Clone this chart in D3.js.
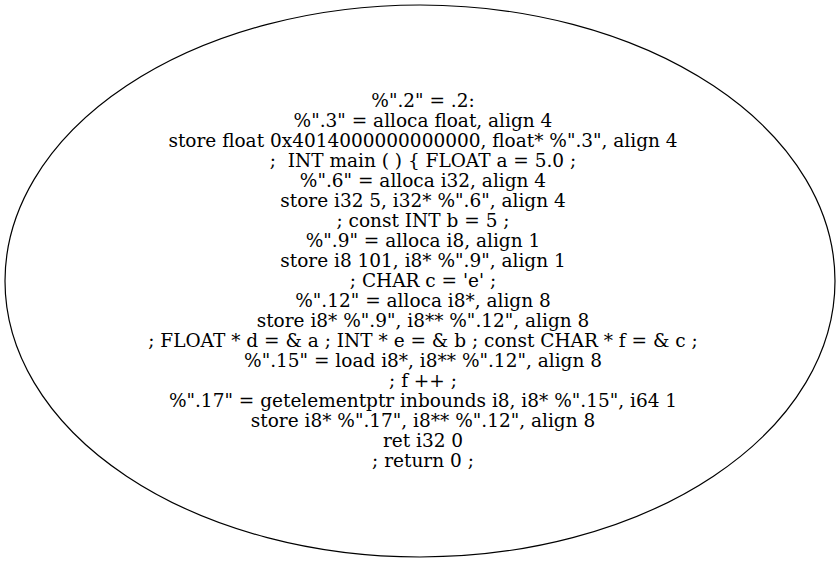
<!DOCTYPE html>
<html>
<head>
<meta charset="utf-8">
<script src="https://d3js.org/d3.v7.min.js"></script>
<style>
  body { margin: 0; background: #fff; }
  text { font-family: "DejaVu Serif", serif; }
</style>
</head>
<body>
<div id="node"></div>
<script>
// node label, one entry per line
var labelLines = [
  '%".2" = .2:',
  '%".3" = alloca float, align 4',
  'store float 0x4014000000000000, float* %".3", align 4',
  ';  INT main ( ) { FLOAT a = 5.0 ;',
  '%".6" = alloca i32, align 4',
  'store i32 5, i32* %".6", align 4',
  '; const INT b = 5 ;',
  '%".9" = alloca i8, align 1',
  'store i8 101, i8* %".9", align 1',
  "; CHAR c = 'e' ;",
  '%".12" = alloca i8*, align 8',
  'store i8* %".9", i8** %".12", align 8',
  '; FLOAT * d = & a ; INT * e = & b ; const CHAR * f = & c ;',
  '%".15" = load i8*, i8** %".12", align 8',
  '; f ++ ;',
  '%".17" = getelementptr inbounds i8, i8* %".15", i64 1',
  'store i8* %".17", i8** %".12", align 8',
  'ret i32 0',
  '; return 0 ;'
];

var width = 840, height = 563;
var cx = 420, cy = 281, rx = 415, ry = 276;
var textX = 423;   // label sits a touch right of the node centre
var lineGap = 20;

var svg = d3.select("#node").append("svg")
    .attr("width", width)
    .attr("height", height);

svg.append("ellipse")
    .attr("cx", cx)
    .attr("cy", cy)
    .attr("rx", rx)
    .attr("ry", ry)
    .attr("fill", "none")
    .attr("stroke", "#000")
    .attr("stroke-width", 1.2);

// vertical position of each line, centred on the node
var y = d3.scaleLinear()
    .domain([0, labelLines.length - 1])
    .range([cy - lineGap * (labelLines.length - 1) / 2, cy + lineGap * (labelLines.length - 1) / 2]);

svg.selectAll("text.lbl")
  .data(labelLines)
  .enter().append("text")
    .attr("class", "lbl")
    .attr("x", textX)
    .attr("y", function(d, i) { return y(i); })
    .attr("dy", "0.33em")
    .attr("text-anchor", "middle")
    .style("font-size", "18.5px")
    .style("white-space", "pre")
    .text(function(d) { return d; });
</script>
</body>
</html>
